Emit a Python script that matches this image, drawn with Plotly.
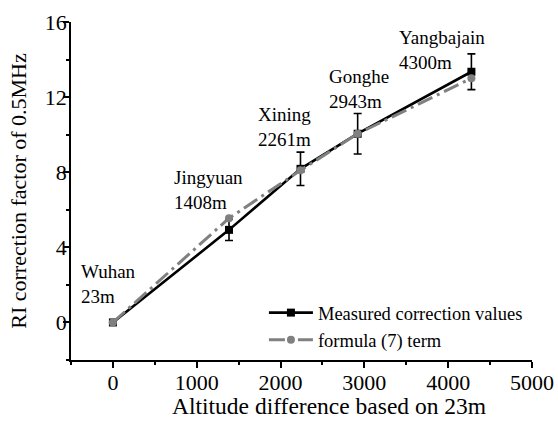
import plotly.graph_objects as go

# Altitude difference relative to Wuhan (23 m), metres
altitude_diff = [0, 1385, 2238, 2920, 4277]
# Measured RI correction factor at 0.5 MHz and its uncertainty
measured = [0.0, 4.93, 8.18, 10.05, 13.35]
measured_err = [0.0, 0.57, 0.89, 1.08, 0.95]
# Values from formula (7)
formula = [0.0, 5.55, 8.1, 10.05, 13.0]

stations = ["Wuhan", "Jingyuan", "Xining", "Gonghe", "Yangbajain"]
station_alt = ["23m", "1408m", "2261m", "2943m", "4300m"]

FONT = "Liberation Serif"

fig = go.Figure()

fig.add_trace(go.Scatter(
    x=altitude_diff, y=measured,
    mode="lines+markers",
    name="Measured correction values",
    line=dict(color="black", width=2.6),
    marker=dict(symbol="square", size=8, color="black"),
    error_y=dict(type="data", array=measured_err, visible=True,
                 color="black", thickness=1.6, width=4),
))

fig.add_trace(go.Scatter(
    x=altitude_diff, y=formula,
    mode="lines+markers",
    name="formula (7) term",
    line=dict(color="#808080", width=3, dash="16px,5px,3px,5px"),
    marker=dict(symbol="circle", size=8, color="#808080"),
))

# Station name / altitude labels beside each point
label_pos = [(-399, 2.05), (710, 7.08), (1710, 10.42), (2556, 12.44), (3389, 14.53)]
for (lx, ly), name, alt in zip(label_pos, stations, station_alt):
    fig.add_annotation(
        x=lx, y=ly, xref="x", yref="y",
        text=f"{name}<br>{alt}",
        showarrow=False, xanchor="left", yanchor="middle", align="left",
        font=dict(family=FONT, size=19, color="black"),
    )

# x-axis title, set slightly right of the plot centre
fig.add_annotation(
    x=0.56, y=-0.137, xref="paper", yref="paper",
    text="Altitude difference based on 23m",
    showarrow=False, xanchor="center", yanchor="middle",
    font=dict(family=FONT, size=23.5, color="black"),
)

axis_common = dict(
    showgrid=False, zeroline=False, automargin=False,
    showline=True, linecolor="black", linewidth=1.5,
    ticks="outside", ticklen=6, tickwidth=1.5, tickcolor="black",
    tickfont=dict(family=FONT, size=22, color="black"),
)

fig.update_xaxes(
    range=[-500, 5000], tick0=0, dtick=1000, ticklabelstandoff=-4,
    minor=dict(dtick=500, tick0=0, ticks="outside", ticklen=3,
               tickwidth=1.5, tickcolor="black"),
    **axis_common,
)
fig.update_yaxes(
    range=[-2, 16], tick0=0, dtick=4, ticklabelstandoff=-8,
    minor=dict(dtick=2, tick0=0, ticks="outside", ticklen=3,
               tickwidth=1.5, tickcolor="black"),
    title=dict(text="RI correction factor of 0.5MHz",
               font=dict(family=FONT, size=22, color="black"), standoff=12),
    **axis_common,
)

fig.update_layout(
    width=558, height=421,
    margin=dict(l=71, r=26, t=22, b=61),
    plot_bgcolor="white", paper_bgcolor="white",
    font=dict(family=FONT, color="black"),
    legend=dict(
        x=0.4185, y=0.195, xanchor="left", yanchor="top",
        bgcolor="rgba(0,0,0,0)", borderwidth=0,
        font=dict(family=FONT, size=18.5, color="black"),
        itemwidth=44, tracegroupgap=0,
    ),
)

fig.write_html("out.html")
